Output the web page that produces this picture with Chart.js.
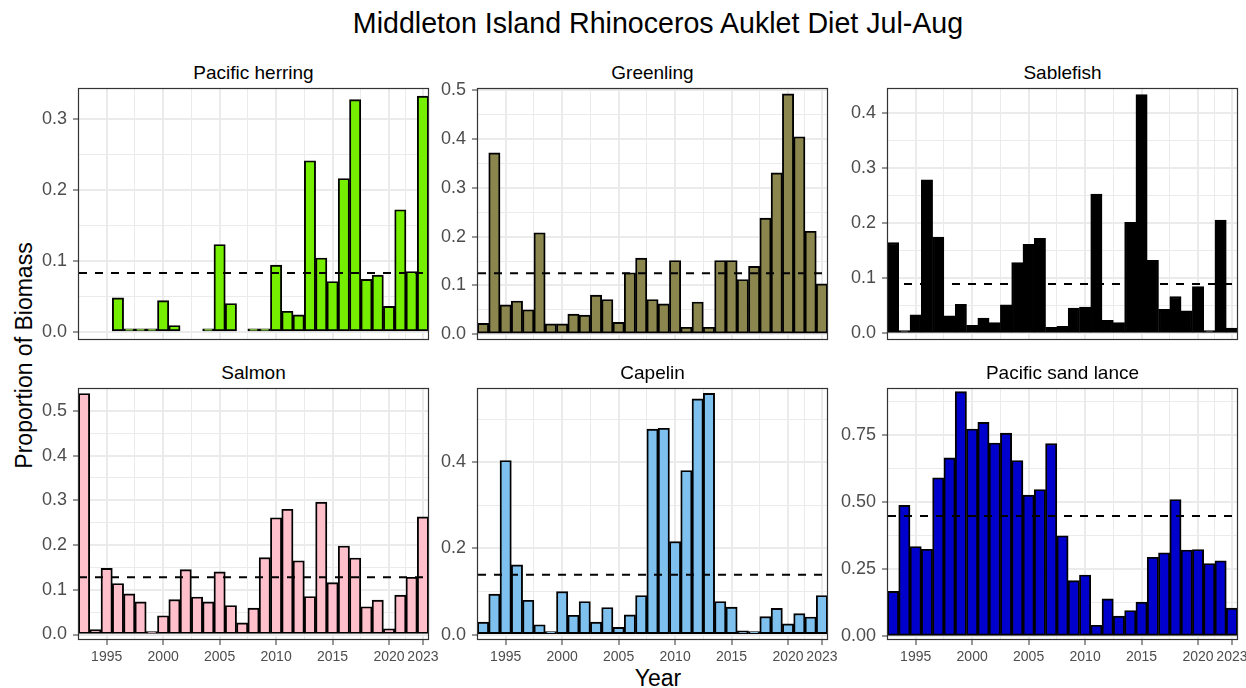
<!DOCTYPE html>
<html>
<head>
<meta charset="utf-8">
<script src="https://cdn.jsdelivr.net/npm/chart.js@4.4.0/dist/chart.umd.min.js"></script>
<style>
  body { margin: 0; background: #fff; font-family: 'Liberation Sans', Arial, sans-serif; }
  #wrap { position: relative; width: 1246px; height: 688px; overflow: hidden; background: #fff; }
  canvas { position: absolute; }
  .lbl { position: absolute; white-space: nowrap; line-height: 1; color: #000; text-align: center; }
</style>
</head>
<body>
<div id="wrap">
  <div class="lbl" style="left:79px; width:1158px; top:9px; font-size:28.6px;">Middleton Island Rhinoceros Auklet Diet Jul-Aug</div>
  <div class="lbl" style="left:79px; width:1158px; top:667px; font-size:23px;">Year</div>
  <div class="lbl" style="left:-126px; width:300px; top:344px; font-size:23px; transform: rotate(-90deg);">Proportion of Biomass</div>
</div>
<script>
const years = [1993, 1994, 1995, 1996, 1997, 1998, 1999, 2000, 2001, 2002, 2003, 2004, 2005, 2006, 2007,
  2008, 2009, 2010, 2011, 2012, 2013, 2014, 2015, 2016, 2017, 2018, 2019, 2020, 2021, 2022, 2023];

const panelNames = ['Pacific herring', 'Greenling', 'Sablefish', 'Salmon', 'Capelin', 'Pacific sand lance'];
const barColors = ['#76EE00', '#8B864E', '#000000', '#FFC0CB', '#7EC0EE', '#0000CD'];

const herring = [null, null, null, 0.048, 0.002, 0.002, 0.004, 0.044, 0.009, null, null, 0.001, 0.123, 0.040, null,
  0.004, 0.002, 0.094, 0.029, 0.024, 0.241, 0.104, 0.071, 0.216, 0.327, 0.074, 0.080, 0.036, 0.172, 0.085, 0.332];
const greenling = [0.022, 0.372, 0.060, 0.068, 0.050, 0.208, 0.021, 0.021, 0.041, 0.039, 0.080, 0.071, 0.024, 0.126, 0.156,
  0.071, 0.062, 0.151, 0.014, 0.066, 0.014, 0.151, 0.151, 0.112, 0.139, 0.238, 0.331, 0.493, 0.405, 0.211, 0.103];
const sablefish = [0.165, 0.005, 0.034, 0.279, 0.175, 0.032, 0.053, 0.015, 0.028, 0.020, 0.052, 0.129, 0.162, 0.173, 0.011,
  0.013, 0.046, 0.048, 0.253, 0.024, 0.020, 0.202, 0.434, 0.133, 0.044, 0.067, 0.041, 0.085, 0.003, 0.206, 0.010];
const salmon = [0.539, 0.011, 0.148, 0.114, 0.091, 0.073, 0.005, 0.042, 0.078, 0.145, 0.084, 0.073, 0.140, 0.065, 0.026,
  0.059, 0.172, 0.261, 0.280, 0.165, 0.085, 0.296, 0.116, 0.198, 0.171, 0.062, 0.077, 0.013, 0.088, 0.128, 0.263];
const capelin = [0.029, 0.094, 0.404, 0.162, 0.080, 0.023, 0.004, 0.100, 0.045, 0.077, 0.029, 0.063, 0.017, 0.046, 0.091,
  0.477, 0.479, 0.216, 0.381, 0.547, 0.560, 0.077, 0.064, 0.009, 0.006, 0.042, 0.061, 0.025, 0.049, 0.041, 0.091];
const sandLance = [0.167, 0.487, 0.334, 0.324, 0.590, 0.664, 0.910, 0.771, 0.796, 0.719, 0.756, 0.654, 0.525, 0.546, 0.717,
  0.374, 0.207, 0.228, 0.041, 0.139, 0.075, 0.096, 0.127, 0.294, 0.311, 0.509, 0.321, 0.323, 0.271, 0.281, 0.105];

// dashed line = long-term mean per prey type
const meanLines = [0.083, 0.125, 0.090, 0.128, 0.139, 0.448];

// y tick labels per panel
const herringTicks = ['0.0', '0.1', '0.2', '0.3'];
const greenlingTicks = ['0.0', '0.1', '0.2', '0.3', '0.4', '0.5'];
const sablefishTicks = ['0.0', '0.1', '0.2', '0.3', '0.4'];
const salmonTicks = ['0.0', '0.1', '0.2', '0.3', '0.4', '0.5'];
const capelinTicks = ['0.0', '0.2', '0.4'];
const sandLanceTicks = ['0.00', '0.25', '0.50', '0.75'];

const yearTicks = ['1995', '2000', '2005', '2010', '2015', '2020', '2023'];

const series = [herring, greenling, sablefish, salmon, capelin, sandLance];
const yTicks = [herringTicks, greenlingTicks, sablefishTicks, salmonTicks, capelinTicks, sandLanceTicks];

// layout
const colLeft = [79, 478, 888];
const rowTop = [89, 389];
const panelW = 349, panelH = 250;
const axisW = 70, padT = 20, padR = 20;
const xMin = 1992.55, xMax = 2023.45;
const FONT = "'Liberation Sans', Arial, sans-serif";

// major ticks plus minor lines halfway between them (ggplot style)
function withMinor(majors, lo, hi) {
  const out = [];
  for (let i = 0; i < majors.length; i++) {
    out.push(majors[i]);
    if (i < majors.length - 1) out.push((majors[i] + majors[i + 1]) / 2);
  }
  const step = majors[majors.length - 1] - majors[majors.length - 2];
  const after = majors[majors.length - 1] + step / 2;
  if (after <= hi) out.push(after);
  const before = majors[0] - (majors[1] - majors[0]) / 2;
  if (before >= lo) out.unshift(before);
  return out;
}
const isIn = (list, v) => list.some(t => Math.abs(t - v) < 1e-9);

const panelBorder = {
  id: 'panelBorder',
  afterDatasetsDraw(chart) {
    const { ctx, chartArea: a } = chart;
    ctx.save();
    ctx.strokeStyle = '#333333';
    ctx.lineWidth = 1.2;
    ctx.strokeRect(Math.round(a.left) - 0.5, Math.round(a.top) - 0.5,
      Math.round(a.right - a.left) + 1, Math.round(a.bottom - a.top) + 1);
    ctx.restore();
  }
};

const wrap = document.getElementById('wrap');
const yearVals = yearTicks.map(Number);

series.forEach((vals, i) => {
  const col = i % 3, row = Math.floor(i / 3);
  const bottomRow = row === 1;
  const yMajorVals = yTicks[i].map(parseFloat);
  const yMin = -0.01;
  const yMax = Math.max(...vals.filter(v => v !== null)) + 0.01;
  const yGrid = withMinor(yMajorVals, yMin, yMax);
  const xGrid = withMinor(yearVals, xMin, xMax);

  // strip label
  const strip = document.createElement('div');
  strip.className = 'lbl';
  strip.textContent = panelNames[i];
  strip.style.cssText = `left:${colLeft[col]}px;width:${panelW}px;top:${rowTop[row] - 26}px;font-size:19px;`;
  wrap.appendChild(strip);

  const cv = document.createElement('canvas');
  cv.width = axisW + panelW + padR;
  cv.height = padT + panelH + (bottomRow ? 30 : 20);
  cv.style.left = (colLeft[col] - axisW) + 'px';
  cv.style.top = (rowTop[row] - padT) + 'px';
  wrap.appendChild(cv);

  new Chart(cv.getContext('2d'), {
    type: 'bar',
    data: {
      datasets: [{
        type: 'line',
        data: [{ x: xMin, y: meanLines[i] }, { x: xMax, y: meanLines[i] }],
        borderColor: '#000000',
        borderWidth: 2,
        borderDash: [8, 8],
        pointRadius: 0,
        order: 0,
        clip: 0
      }, {
        type: 'bar',
        data: years.map((yr, k) => ({ x: yr, y: vals[k] })),
        backgroundColor: barColors[i],
        borderColor: '#000000',
        borderWidth: 1.9,
        borderSkipped: false,
        barPercentage: 1,
        categoryPercentage: 1,
        minBarLength: 3,
        order: 1,
        clip: 0
      }]
    },
    options: {
      responsive: false,
      maintainAspectRatio: false,
      animation: false,
      layout: { padding: { top: padT, right: padR, bottom: bottomRow ? 0 : 20, left: 0 } },
      plugins: { legend: { display: false }, tooltip: { enabled: false } },
      scales: {
        x: {
          type: 'linear',
          min: xMin,
          max: xMax,
          bounds: 'data',
          offset: false,
          afterBuildTicks: s => { s.ticks = xGrid.map(v => ({ value: v })); },
          afterFit: s => { s.height = bottomRow ? 30 : 0; },
          border: { display: false },
          grid: {
            offset: false,
            color: '#EBEBEB',
            lineWidth: c => (c.tick && isIn(yearVals, c.tick.value)) ? 2 : 1,
            drawTicks: bottomRow,
            tickLength: 6,
            tickWidth: 1,
            tickColor: c => (c.tick && isIn(yearVals, c.tick.value)) ? '#333333' : 'rgba(0,0,0,0)'
          },
          ticks: {
            display: bottomRow,
            autoSkip: false,
            maxRotation: 0,
            minRotation: 0,
            padding: 4,
            color: '#4D4D4D',
            font: { family: FONT, size: 14 },
            callback: v => {
              const k = yearVals.findIndex(t => Math.abs(t - v) < 1e-9);
              return k >= 0 ? yearTicks[k] : '';
            }
          }
        },
        y: {
          min: yMin,
          max: yMax,
          bounds: 'data',
          afterBuildTicks: s => { s.ticks = yGrid.map(v => ({ value: v })); },
          afterFit: s => { s.width = axisW; },
          border: { display: false },
          grid: {
            color: '#EBEBEB',
            lineWidth: c => (c.tick && isIn(yMajorVals, c.tick.value)) ? 2 : 1,
            drawTicks: true,
            tickLength: 6,
            tickWidth: 1,
            tickColor: c => (c.tick && isIn(yMajorVals, c.tick.value)) ? '#333333' : 'rgba(0,0,0,0)'
          },
          ticks: {
            autoSkip: false,
            padding: 6,
            color: '#4D4D4D',
            font: { family: FONT, size: 18 },
            callback: v => {
              const k = yMajorVals.findIndex(t => Math.abs(t - v) < 1e-9);
              return k >= 0 ? yTicks[i][k] : '';
            }
          }
        }
      }
    },
    plugins: [panelBorder]
  });
});
</script>
</body>
</html>
